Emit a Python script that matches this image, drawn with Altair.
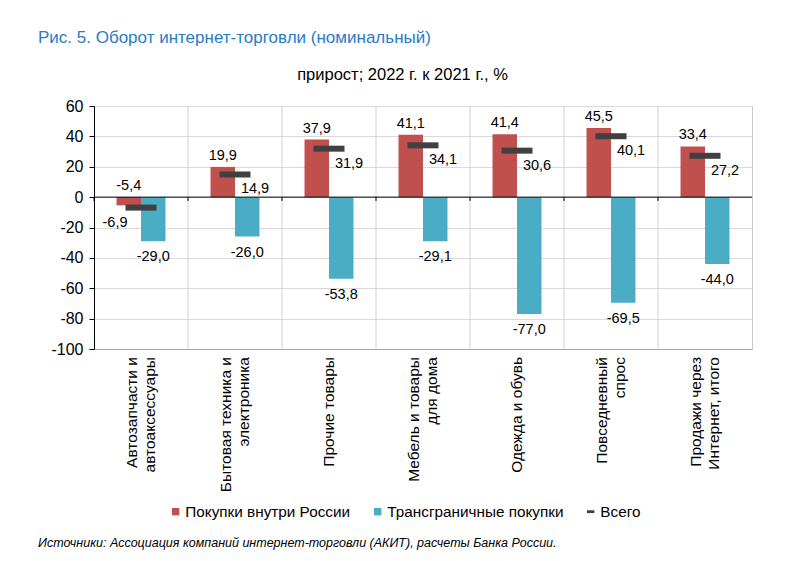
import altair as alt
import pandas as pd

categories = [
    "Автозапчасти и\nавтоаксессуары",
    "Бытовая техника и\nэлектроника",
    "Прочие товары",
    "Мебель и товары\nдля дома",
    "Одежда и обувь",
    "Повседневный\nспрос",
    "Продажи через\nИнтернет, итого",
]
domestic = [-5.4, 19.9, 37.9, 41.1, 41.4, 45.5, 33.4]
crossborder = [-29.0, -26.0, -53.8, -29.1, -77.0, -69.5, -44.0]
total = [-6.9, 14.9, 31.9, 34.1, 30.6, 40.1, 27.2]
series_names = ["Покупки внутри России", "Трансграничные покупки", "Всего"]
colors = ["#c0504d", "#4bacc6", "#404040"]
y_ticks = [-100, -80, -60, -40, -20, 0, 20, 40, 60]

title_text = "Рис. 5. Оборот интернет-торговли (номинальный)"
subtitle_text = "прирост; 2022 г. к 2021 г., %"
source_text = "Источники: Ассоциация компаний интернет-торговли (АКИТ), расчеты Банка России."

FONT = "Liberation Sans"

rows = []
for c, d, b in zip(categories, domestic, crossborder):
    rows.append({"cat": c, "series": series_names[0], "value": d})
    rows.append({"cat": c, "series": series_names[1], "value": b})
df = pd.DataFrame(rows)
df_total = pd.DataFrame({"cat": categories, "value": total, "idx": list(range(len(categories)))})
df_cats = pd.DataFrame({"cat": categories})
df_legend = pd.DataFrame({"series": series_names})

lbl_expr = "(datum.value < 0 ? '-' : '') + replace(format(abs(datum.value), '.1f'), '.', ',')"

x_enc = alt.X(
    "cat:N",
    sort=categories,
    scale=alt.Scale(paddingInner=0, paddingOuter=0),
    axis=alt.Axis(title=None, labels=False, ticks=False, domainColor="#a6a6a6", grid=False),
)
xoff_enc = alt.XOffset(
    "series:N",
    sort=series_names[:2],
    scale=alt.Scale(domain=series_names[:2], paddingInner=0, paddingOuter=0.92),
)
y_scale = alt.Scale(domain=[-100, 60], nice=False, zero=False)
y_axis = alt.Axis(
    title=None,
    values=y_ticks,
    labelExpr="'' + datum.value",
    labelOverlap=False,
    labelFontSize=16,
    labelFont=FONT,
    labelColor="#000000",
    domainColor="#000000",
    tickColor="#000000",
    tickSize=5,
    labelPadding=6,
    gridColor="#d9d9d9",
    grid=True,
)


def Y(field):
    return alt.Y(field, scale=y_scale, axis=y_axis)


base = alt.Chart(df)

vgrid = alt.Chart(df_total).mark_rule(color="#d0d0d0", strokeWidth=1).encode(
    x=alt.X("cat:N", sort=categories, bandPosition=0)
).transform_filter("datum.idx > 0")

bars = base.mark_bar().encode(
    x=x_enc,
    xOffset=xoff_enc,
    y=Y("value:Q"),
    color=alt.Color("series:N", scale=alt.Scale(domain=series_names, range=colors)),
)

zero = alt.Chart(pd.DataFrame({"z": [0]})).mark_rule(color="#000000", strokeWidth=1).encode(
    y=Y("z:Q")
)

zero_ticks = alt.Chart(df_total).mark_rule(color="#000000", strokeWidth=1).encode(
    x=alt.X("cat:N", sort=categories, bandPosition=0),
    y=alt.YDatum(0, scale=y_scale, axis=y_axis),
    y2=alt.Y2Datum(-2.5),
)

red_labels = base.transform_filter(
    alt.datum.series == series_names[0]
).transform_calculate(
    ly="max(datum.value, 0)", lbl=lbl_expr
).mark_text(baseline="bottom", dy=-4, fontSize=14.5, font=FONT, color="#000000").encode(
    x=alt.X("cat:N", sort=categories),
    xOffset=xoff_enc,
    y=Y("ly:Q"),
    text="lbl:N",
)

blue_labels = base.transform_filter(
    alt.datum.series == series_names[1]
).transform_calculate(
    ly="min(datum.value, 0)", lbl=lbl_expr
).mark_text(baseline="top", dy=9, fontSize=14.5, font=FONT, color="#000000").encode(
    x=alt.X("cat:N", sort=categories),
    xOffset=xoff_enc,
    y=Y("ly:Q"),
    text="lbl:N",
)

total_ticks = alt.Chart(df_total).mark_tick(
    color=colors[2], thickness=6, size=31, orient="horizontal", opacity=1
).encode(
    x=alt.X("cat:N", sort=categories),
    y=Y("value:Q"),
)

total_pos_labels = alt.Chart(df_total).transform_filter("datum.value >= 0").transform_calculate(
    lbl=lbl_expr
).mark_text(baseline="middle", dx=20, dy=15, fontSize=14.5, font=FONT, color="#000000").encode(
    x=alt.X("cat:N", sort=categories),
    y=Y("value:Q"),
    text="lbl:N",
)
total_neg_labels = alt.Chart(df_total).transform_filter("datum.value < 0").transform_calculate(
    lbl=lbl_expr
).mark_text(baseline="middle", dx=-26, dy=15, fontSize=14.5, font=FONT, color="#000000").encode(
    x=alt.X("cat:N", sort=categories),
    y=Y("value:Q"),
    text="lbl:N",
)

# category labels (rotated), one layer for single-line and one for two-line names
cat_one = alt.Chart(df_cats).transform_filter("indexof(datum.cat, '\\n') < 0").mark_text(
    angle=270, align="right", baseline="middle", fontSize=15.5, font=FONT,
    color="#000000", lineBreak="\n", lineHeight=18,
).encode(x=alt.X("cat:N", sort=categories), y=alt.value(251), text="cat:N")
cat_two = alt.Chart(df_cats).transform_filter("indexof(datum.cat, '\\n') >= 0").mark_text(
    angle=270, align="right", baseline="middle", fontSize=15.5, font=FONT,
    color="#000000", lineBreak="\n", lineHeight=18, dy=-9,
).encode(x=alt.X("cat:N", sort=categories), y=alt.value(251), text="cat:N")

leg = alt.Legend(
    title=None,
    orient="none",
    direction="horizontal",
    legendX=74,
    legendY=398,
    labelFontSize=15.3,
    labelFont=FONT,
    labelColor="#000000",
    symbolSize=55,
    labelOffset=2,
    columnPadding=19,
    labelLimit=300,
)
legend_layer = alt.Chart(df_legend).transform_filter("false").mark_point(filled=True, opacity=1).encode(
    color=alt.Color("series:N", scale=alt.Scale(domain=series_names, range=colors), legend=leg),
    shape=alt.Shape(
        "series:N",
        scale=alt.Scale(domain=series_names, range=["square", "square", "M-1,-0.38H1V0.38H-1Z"]),
        legend=leg,
    ),
)

subtitle = alt.Chart(pd.DataFrame({"t": [subtitle_text]})).mark_text(
    align="center", baseline="middle", fontSize=16.5, font=FONT, color="#000000"
).encode(x=alt.value(308.5), y=alt.value(-31), text="t:N")

source = alt.Chart(pd.DataFrame({"t": [source_text]})).mark_text(
    align="left", baseline="middle", fontSize=12.5, font=FONT, fontStyle="italic", color="#000000"
).encode(x=alt.value(-56), y=alt.value(437), text="t:N")

chart = alt.layer(
    vgrid, bars, zero, zero_ticks, total_ticks, red_labels, blue_labels,
    total_pos_labels, total_neg_labels, cat_one, cat_two, legend_layer, subtitle, source
).properties(
    width=658,
    height=243,
    title=alt.TitleParams(
        text=title_text,
        anchor="start",
        frame="bounds",
        fontSize=17,
        font=FONT,
        fontWeight="normal",
        color="#2a7bc4",
        offset=20,
    ),
    padding={"left": 30, "top": 21, "right": 5, "bottom": 5},
).configure_view(stroke="#c8c8c8", strokeWidth=1).configure_axis(domainWidth=1)

chart.save("out.html", embed_options={"renderer": "svg", "actions": False})
